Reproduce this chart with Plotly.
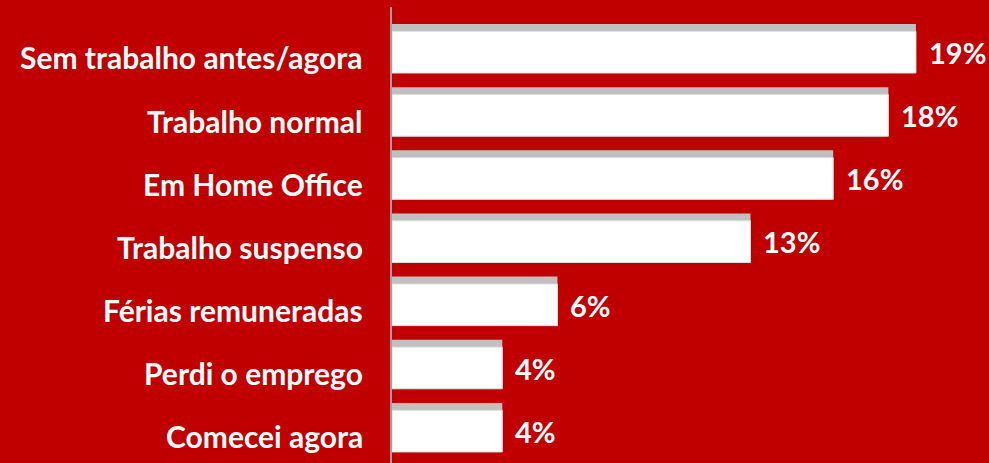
import plotly.graph_objects as go

categories = ["Sem trabalho antes/agora", "Trabalho normal", "Em Home Office",
              "Trabalho suspenso", "Férias remuneradas", "Perdi o emprego", "Comecei agora"]
values = [19, 18, 16, 13, 6, 4, 4]
value_labels = ["19%", "18%", "16%", "13%", "6%", "4%", "4%"]

BG = "#C00000"
FONT = "Lato"

fig = go.Figure()
# grey top strip (full bar)
fig.add_trace(go.Bar(
    x=values, y=categories, orientation="h",
    width=0.776, offset=-0.388,
    marker=dict(color="#C0C0C0", line=dict(width=0)),
    hoverinfo="skip", showlegend=False,
))
# white body
fig.add_trace(go.Bar(
    x=values, y=categories, orientation="h",
    width=0.66, offset=-0.272,
    marker=dict(color="#FFFFFF", line=dict(color="#DCDCDC", width=1)),
    hoverinfo="skip", showlegend=False,
))

annotations = []
for c, v, t in zip(categories, values, value_labels):
    annotations.append(dict(
        x=0, y=c, xref="x", yref="y", text=f"<b>{c}</b>", showarrow=False,
        xanchor="right", yanchor="middle", xshift=-27, yshift=-9,
        font=dict(family=FONT, size=30, color="white"),
    ))
    annotations.append(dict(
        x=v, y=c, xref="x", yref="y", text=f"<b>{t}</b>", showarrow=False,
        xanchor="left", yanchor="middle", xshift=11, yshift=-4,
        font=dict(family=FONT, size=29, color="white"),
    ))

fig.update_layout(
    width=989, height=463,
    margin=dict(l=392, r=0, t=7, b=0),
    paper_bgcolor=BG, plot_bgcolor=BG,
    barmode="overlay",
    annotations=annotations,
    xaxis=dict(range=[0, 21.65], showgrid=False, zeroline=False,
               showticklabels=False, showline=False, fixedrange=True),
    yaxis=dict(type="category", categoryorder="array", categoryarray=categories,
               range=[6.563, -0.657], showgrid=False, zeroline=False,
               showticklabels=False, showline=True, linecolor="#A0A0A0",
               linewidth=2, fixedrange=True),
)

fig.write_html(
    "out.html",
    config={"displayModeBar": False},
    post_script="document.body.style.margin='0';document.body.style.background='%s';" % BG,
)
